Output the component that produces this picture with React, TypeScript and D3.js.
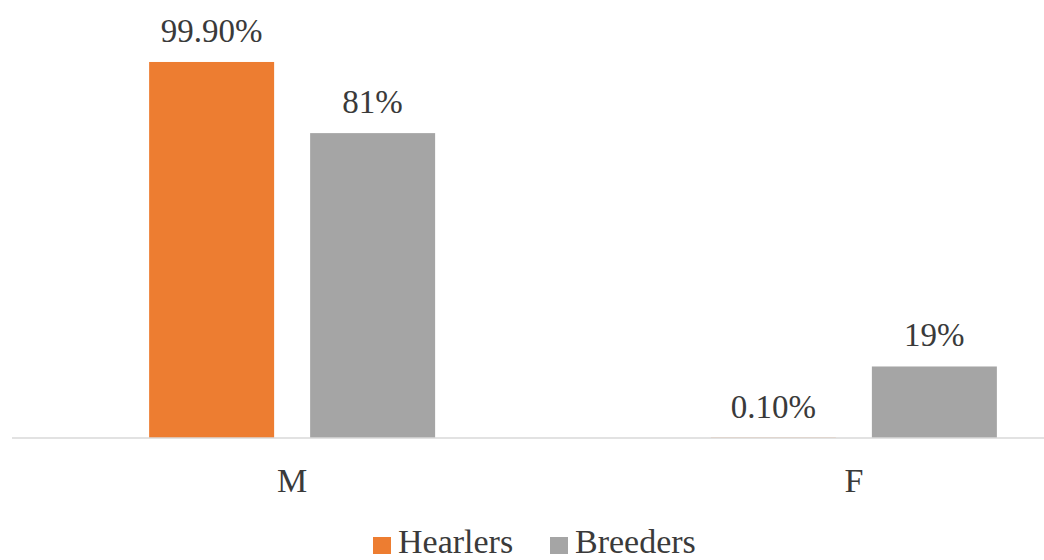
import React from "react";
import * as d3 from "d3";

const categories = ["M", "F"];
const seriesNames = ["Hearlers", "Breeders"];
const hearlers = [99.9, 0.1];
const breeders = [81, 19];
const valueLabels = [
  ["99.90%", "0.10%"],
  ["81%", "19%"],
];
const colors = ["#ED7D31", "#A5A5A5"];

const W = 1044;
const H = 560;
const baseY = 438;
const textStyle: React.CSSProperties = { fontFamily: "\"Liberation Serif\", \"DejaVu Serif\", serif" };
const textColor = "#3a3a3a";

export default function App() {
  const x0 = d3.scaleBand<string>().domain(categories).range([11.25, 1134.75]).padding(0);
  const groupW = 286;
  const x1 = d3.scaleBand<string>().domain(seriesNames).range([0, groupW]).paddingInner(0.2236).paddingOuter(0);
  const y = d3.scaleLinear().domain([0, 100]).range([baseY, 61.6]);
  const series = [hearlers, breeders];

  return (
    <svg width={W} height={H} style={{ position: "absolute", left: 0, top: 0, background: "#fff" }}>
      {categories.map((c, ci) => {
        const gx = (x0(c) as number) + x0.bandwidth() / 2 - groupW / 2;
        return (
          <g key={c}>
            {seriesNames.map((s, si) => {
              const v = series[si][ci];
              const bx = gx + (x1(s) as number);
              const bw = x1.bandwidth();
              return (
                <g key={s}>
                  <rect x={bx} y={y(v)} width={bw} height={baseY - y(v)} fill={colors[si]} />
                  <text x={bx + bw / 2} y={y(v) - 20} textAnchor="middle" fontSize={33} fill={textColor} style={textStyle}>
                    {valueLabels[si][ci]}
                  </text>
                </g>
              );
            })}
            <text x={(x0(c) as number) + x0.bandwidth() / 2} y={492} textAnchor="middle" fontSize={34} fill={textColor} style={textStyle}>
              {c}
            </text>
          </g>
        );
      })}
      <line x1={12} x2={W} y1={baseY} y2={baseY} stroke="#D9D9D9" strokeWidth={1.5} />
      {/* legend */}
      <g>
        <rect x={373} y={537} width={18} height={17} fill={colors[0]} />
        <text x={398} y={553} fontSize={34} fill={textColor} style={textStyle}>{seriesNames[0]}</text>
        <rect x={550} y={537} width={18} height={17} fill={colors[1]} />
        <text x={575} y={553} fontSize={34} fill={textColor} style={textStyle}>{seriesNames[1]}</text>
      </g>
    </svg>
  );
}
